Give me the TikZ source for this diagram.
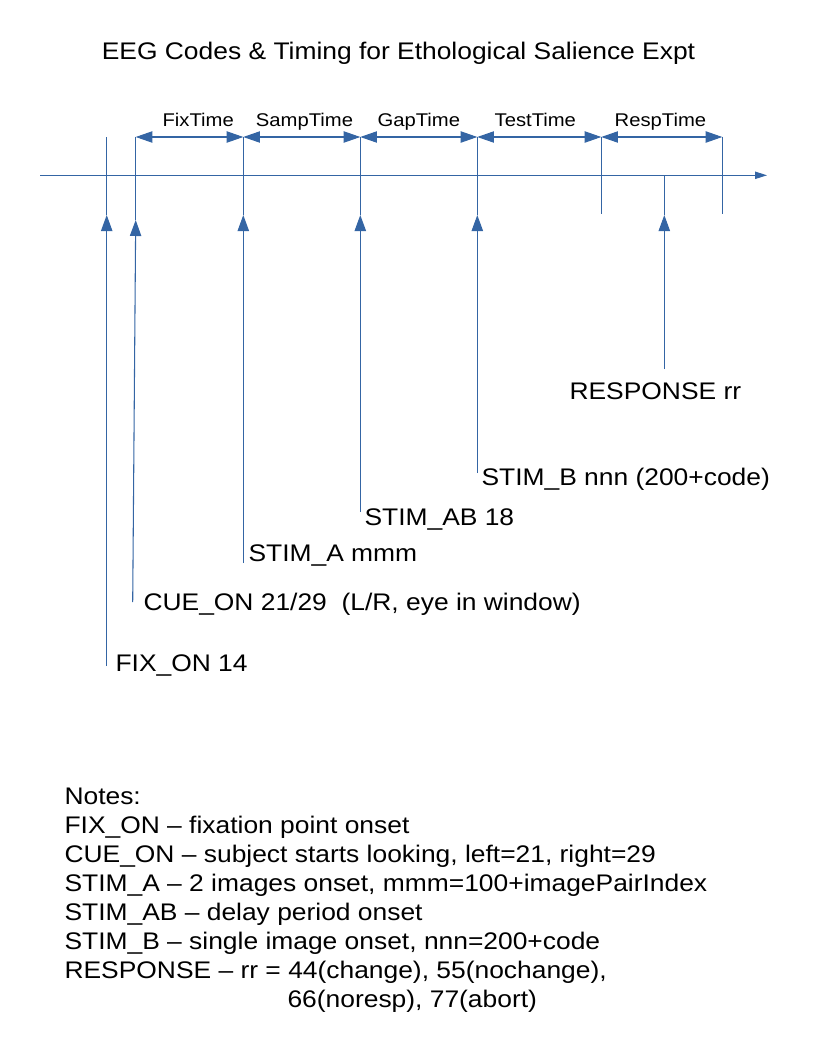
\documentclass[tikz,border=0pt]{standalone}
\usepackage{fontspec}
\setmainfont{Liberation Sans}[FakeStretch=1.10]
\usetikzlibrary{arrows.meta}
\definecolor{lineblue}{HTML}{3465A4}
\tikzstyle{every node}=[black, inner sep=0pt, font=\fontsize{18}{21.75}\selectfont]
\tikzstyle{event}=[-{Triangle[length=12pt, width=8.5pt]}]
\tikzstyle{span}=[{Triangle[length=12.5pt, width=8.5pt]}-{Triangle[length=12.5pt, width=8.5pt]}]
\tikzstyle{spanlabel}=[midway, anchor=base, yshift=7.7pt, font=\fontsize{13.8}{16}\selectfont]

\begin{document}
\begin{tikzpicture}[x=0.75pt, y=-0.75pt, line width=0.8pt, lineblue]
\useasboundingbox (0,0) rectangle (816,1056);
% Title
    \node[anchor=base] (title) at (398.5,59.3) {EEG Codes \& Timing for Ethological Salience Expt};
% Time axis
    \coordinate (axisstart) at (40,175.3);
    \coordinate (axisend) at (767,175.3);
    \draw[-{Triangle[length=9pt, width=5.5pt]}] (axisstart) -- (axisend);
% Ticks
    \coordinate (fixtop) at (106.7,137);
    \coordinate (cuetop) at (135.7,137);
    \coordinate (atop) at (243.3,137);
    \coordinate (abtop) at (360.3,137);
    \coordinate (btop) at (477.3,137);
    \coordinate (resptop) at (601.3,137);
    \coordinate (endtop) at (722.3,137);
    \coordinate (fixtip) at (106.7,215);
    \coordinate (cuetip) at (135.7,220);
    \coordinate (atip) at (243.3,215);
    \coordinate (abtip) at (360.3,215);
    \coordinate (btip) at (477.3,215);
    \coordinate (respbot) at (601.3,214);
    \coordinate (endbot) at (722.3,214);
    \coordinate (rraxis) at (664.3,175.3);
    \coordinate (rrtip) at (664.3,215);
    \draw (fixtop) -- (fixtip);
    \draw (cuetop) -- (cuetip);
    \draw (atop) -- (atip);
    \draw (abtop) -- (abtip);
    \draw (btop) -- (btip);
    \draw (resptop) -- (respbot);
    \draw (endtop) -- (endbot);
    \draw (rraxis) -- (rrtip);
% Periods
    \draw[span] (cuetop) -- node[spanlabel, xshift=6.5pt] (fixtime) {FixTime} (atop);
    \draw[span] (atop) -- node[spanlabel, xshift=2pt] (samptime) {SampTime} (abtop);
    \draw[span] (abtop) -- node[spanlabel] (gaptime) {GapTime} (btop);
    \draw[span] (btop) -- node[spanlabel, xshift=-3pt] (testtime) {TestTime} (resptop);
    \draw[span] (resptop) -- node[spanlabel, xshift=-1pt] (resptime) {RespTime} (endtop);
% Event codes
    \coordinate (fixfoot) at (106.7,666);
    \coordinate (cuefoot) at (132.7,602);
    \coordinate (afoot) at (243.3,563);
    \coordinate (abfoot) at (360.3,512);
    \coordinate (bfoot) at (477.3,473);
    \coordinate (rrfoot) at (664.3,369);
    \draw[event] (fixfoot) -- (fixtip);
    \draw[event] (cuefoot) -- (cuetip);
    \draw[event] (afoot) -- (atip);
    \draw[event] (abfoot) -- (abtip);
    \draw[event] (bfoot) -- (btip);
    \draw[event] (rrfoot) -- (rrtip);
    \node[anchor=base west] (fixlabel) at (115,671.7) {FIX\_ON 14};
    \node[anchor=base west] (cuelabel) at (143,610) {CUE\_ON 21/29\ \ (L/R, eye in window)};
    \node[anchor=base west] (alabel) at (248,561.7) {STIM\_A mmm};
    \node[anchor=base west] (ablabel) at (364,525) {STIM\_AB 18};
    \node[anchor=base west] (blabel) at (481,485) {STIM\_B nnn (200+code)};
    \node[anchor=base west] (rrlabel) at (569,399) {RESPONSE rr};
% Notes
    \node[anchor=base west] (notes) at (64,804.3) {Notes:};
    \node[anchor=base west] (notefix) at (64,833.3) {FIX\_ON – fixation point onset};
    \node[anchor=base west] (notecue) at (64,862.3) {CUE\_ON – subject starts looking, left=21, right=29};
    \node[anchor=base west] (notea) at (64,891.3) {STIM\_A – 2 images onset, mmm=100+imagePairIndex};
    \node[anchor=base west] (noteab) at (64,920.3) {STIM\_AB – delay period onset};
    \node[anchor=base west] (noteb) at (64,949.3) {STIM\_B – single image onset, nnn=200+code};
    \node[anchor=base west] (noterr) at (64,978.3) {RESPONSE – rr = 44(change), 55(nochange),};
    \node[anchor=base west] (noterrmore) at (287,1007.3) {66(noresp), 77(abort)};
\end{tikzpicture}
\end{document}
